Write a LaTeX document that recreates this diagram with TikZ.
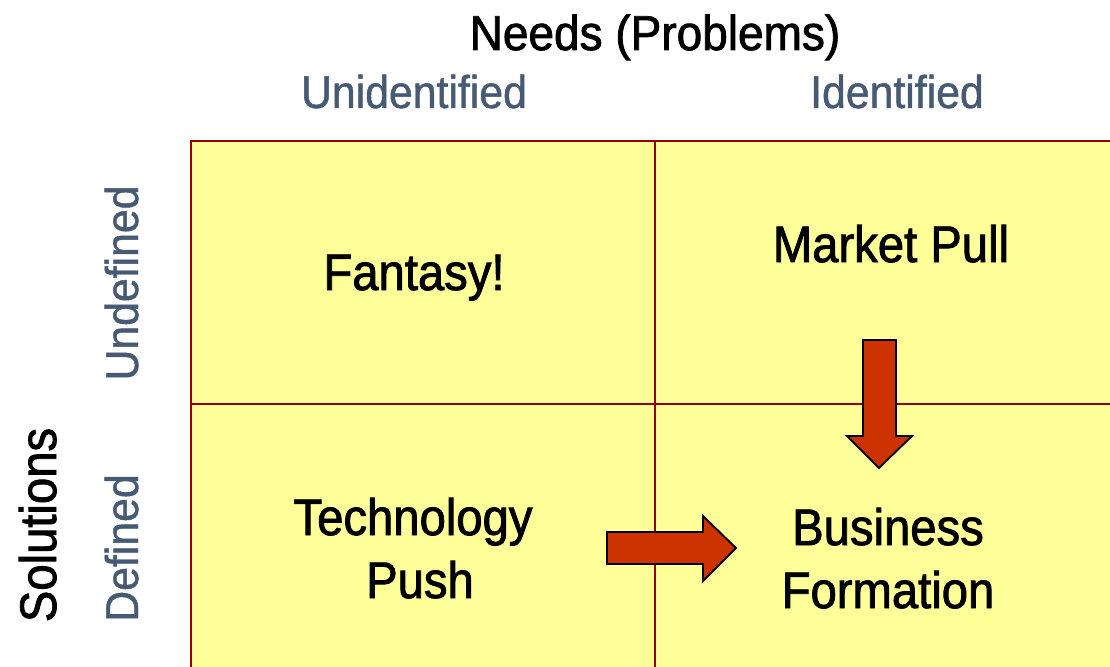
\documentclass[tikz,border=0pt]{standalone}
\usepackage{fontspec}
\setmainfont{Liberation Sans}[FakeStretch=0.92, FakeBold=1.6]
\newfontfamily\headfont{Liberation Sans}[FakeStretch=0.94, FakeBold=1.6]
\newfontfamily\greyfont{Liberation Sans}[FakeStretch=0.93, FakeBold=1.0]
\definecolor{cellyellow}{HTML}{FFFF99}
\definecolor{gridred}{HTML}{990000}
\definecolor{arrowred}{HTML}{CC3300}
\definecolor{labelgrey}{HTML}{465A73}
\tikzset{
  bigtxt/.style={inner sep=0pt, anchor=base, text=black, font=\fontsize{38.5}{46}\selectfont},
  headtxt/.style={inner sep=0pt, anchor=base, text=black, font=\headfont\fontsize{36.7}{44}\selectfont},
  greytxt/.style={inner sep=0pt, anchor=base, text=labelgrey, font=\greyfont\fontsize{34.5}{41}\selectfont},
  gridline/.style={draw=gridred, line width=1.5pt},
  blockarrow/.style={draw=black, fill=arrowred, line width=1.4pt, line join=miter},
}
\begin{document}
\begin{tikzpicture}[x=0.75pt, y=-0.75pt]
\useasboundingbox (0,0) rectangle (1110,667);
% grid
\fill[cellyellow] (191,141) rectangle (1115,672);
\draw[gridline] (1115,141) -- (191,141) -- (191,672);
\draw[gridline] (655,141) -- (655,672);
\draw[gridline] (191,404) -- (1115,404);
% headers
\node[headtxt] (needs) at (655,50) {Needs (Problems)};
\node[greytxt] (unid) at (414,108) {Unidentified};
\node[greytxt] (ident) at (897,108) {Identified};
\node[greytxt, rotate=90] (undef) at (138,283) {Undefined};
\node[greytxt, rotate=90] (def) at (138,548) {Defined};
\node[bigtxt, rotate=90] (sol) at (56,525) {Solutions};
% cells
\node[bigtxt] (fantasy) at (414,290) {Fantasy!};
\node[bigtxt] (market) at (891,262) {Market Pull};
\node[bigtxt] (tech) at (413,535) {Technology};
\node[bigtxt] (push) at (420,598) {Push};
\node[bigtxt] (bus) at (888,545) {Business};
\node[bigtxt] (form) at (888,608) {Formation};
% block arrows
\draw[blockarrow] (863,340) -- (896,340) -- (896,436) -- (912,436) -- (879,468) -- (847,436) -- (863,436) -- cycle;
\draw[blockarrow] (607,532) -- (703,532) -- (703,516) -- (736,548) -- (703,581) -- (703,564) -- (607,564) -- cycle;
\end{tikzpicture}
\end{document}
